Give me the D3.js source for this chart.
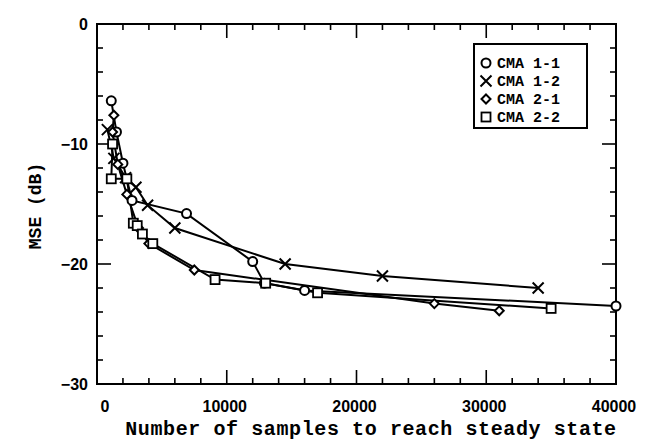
<!DOCTYPE html>
<html>
<head>
<meta charset="utf-8">
<script src="https://cdn.jsdelivr.net/npm/d3@7"></script>
<style>
  body { margin: 0; background: #fff; }
  svg { display: block; }
  .tick-label { font-family: "Liberation Sans", Arial, sans-serif; font-weight: bold; font-size: 16px; }
  .axis-title { font-family: "Liberation Mono", "Courier New", monospace; font-weight: bold; font-size: 20px; }
  .legend-text { font-family: "Liberation Mono", "Courier New", monospace; font-weight: bold; font-size: 15px; }
</style>
</head>
<body>
<script>
// series: number of samples vs MSE (dB)
var cma11X = [1100, 1500, 2000, 2700, 6900, 12000, 12900, 16000, 40000];
var cma11Y = [-6.4, -9.0, -11.6, -14.7, -15.8, -19.8, -21.6, -22.2, -23.5];

var cma12X = [800, 1300, 2200, 3000, 3900, 6000, 14500, 22000, 34000];
var cma12Y = [-8.8, -11.2, -12.8, -13.6, -15.1, -17.0, -20.0, -21.0, -22.0];

var cma21X = [1300, 1200, 1600, 2300, 3200, 4000, 7500, 26000, 31000];
var cma21Y = [-7.6, -9.0, -11.7, -14.2, -17.0, -18.3, -20.5, -23.3, -23.9];

var cma22X = [1200, 1100, 2300, 2800, 3100, 3500, 4300, 9100, 13000, 17000, 35000];
var cma22Y = [-10.0, -12.9, -12.9, -16.6, -16.8, -17.5, -18.3, -21.3, -21.6, -22.4, -23.7];

var xTicks = [0, 10000, 20000, 30000, 40000];
var yTicks = [0, -10, -20, -30];
var legendLabels = ["CMA 1-1", "CMA 1-2", "CMA 2-1", "CMA 2-2"];

var width = 650, height = 441;
// plot frame (note: "top" clashes with window.top, so prefix these)
var pLeft = 97, pRight = 616, pTop = 24, pBottom = 384;

var svg = d3.select("body").append("svg")
  .attr("width", width)
  .attr("height", height);

var x = d3.scaleLinear().domain([0, 40000]).range([pLeft, pRight]);
var y = d3.scaleLinear().domain([-30, 0]).range([pBottom, pTop]);

// frame
svg.append("rect")
  .attr("x", pLeft).attr("y", pTop)
  .attr("width", pRight - pLeft).attr("height", pBottom - pTop)
  .attr("fill", "none").attr("stroke", "black").attr("stroke-width", 2);

// inward ticks on all four sides, x every 2000, y every 2 dB
var xMinor = d3.range(0, 40001, 2000);
var yMinor = d3.range(-30, 0.1, 2);
var ticks = svg.append("g").attr("stroke", "black").attr("stroke-width", 1.6);
xMinor.forEach(function (v) {
  var len = (v % 10000 === 0) ? 14 : 6;
  ticks.append("line").attr("x1", x(v)).attr("x2", x(v)).attr("y1", pBottom).attr("y2", pBottom - len);
  ticks.append("line").attr("x1", x(v)).attr("x2", x(v)).attr("y1", pTop).attr("y2", pTop + len);
});
yMinor.forEach(function (v) {
  var len = (Math.round(v) % 10 === 0) ? 14 : 6;
  ticks.append("line").attr("x1", pLeft).attr("x2", pLeft + len).attr("y1", y(v)).attr("y2", y(v));
  ticks.append("line").attr("x1", pRight).attr("x2", pRight - len).attr("y1", y(v)).attr("y2", y(v));
});

// tick labels
svg.append("g").selectAll("text")
  .data(xTicks).enter().append("text")
  .attr("class", "tick-label")
  .attr("x", function (d) { return d === 0 ? x(d) + 8 : x(d) - 2; })
  .attr("y", pBottom + 28)
  .attr("text-anchor", "middle")
  .text(function (d) { return d; });

svg.append("g").selectAll("text")
  .data(yTicks).enter().append("text")
  .attr("class", "tick-label")
  .attr("x", pLeft - 9)
  .attr("y", function (d) { return y(d) + 6; })
  .attr("text-anchor", "end")
  .text(function (d) { return d === 0 ? "0" : "\u2212" + Math.abs(d); });

// axis titles
svg.append("text")
  .attr("class", "axis-title")
  .attr("x", 371)
  .attr("y", 435)
  .attr("text-anchor", "middle")
  .style("letter-spacing", "0.6px")
  .text("Number of samples to reach steady state");

svg.append("text")
  .attr("class", "axis-title")
  .style("font-size", "18px")
  .attr("transform", "translate(41,206) rotate(-90)")
  .attr("text-anchor", "middle")
  .text("MSE (dB)");

// markers
function drawMarker(g, kind, cx, cy) {
  if (kind === "circle") {
    g.append("circle").attr("cx", cx).attr("cy", cy).attr("r", 4.5)
      .attr("fill", "white").attr("stroke", "black").attr("stroke-width", 2);
  } else if (kind === "cross") {
    var s = 5.5;
    g.append("path")
      .attr("d", "M" + (cx - s) + "," + (cy - s) + "L" + (cx + s) + "," + (cy + s) +
                 "M" + (cx - s) + "," + (cy + s) + "L" + (cx + s) + "," + (cy - s))
      .attr("stroke", "black").attr("stroke-width", 2);
  } else if (kind === "diamond") {
    var d = 4.5;
    g.append("path")
      .attr("d", "M" + cx + "," + (cy - d) + "L" + (cx + d) + "," + cy + "L" + cx + "," + (cy + d) + "L" + (cx - d) + "," + cy + "Z")
      .attr("fill", "white").attr("stroke", "black").attr("stroke-width", 2);
  } else {
    var h = 4.5;
    g.append("rect").attr("x", cx - h).attr("y", cy - h).attr("width", 2 * h).attr("height", 2 * h)
      .attr("fill", "white").attr("stroke", "black").attr("stroke-width", 1.8);
  }
}

var series = [
  { xs: cma11X, ys: cma11Y, kind: "circle" },
  { xs: cma12X, ys: cma12Y, kind: "cross" },
  { xs: cma21X, ys: cma21Y, kind: "diamond" },
  { xs: cma22X, ys: cma22Y, kind: "square" }
];

var line = d3.line()
  .x(function (d) { return x(d[0]); })
  .y(function (d) { return y(d[1]); });

series.forEach(function (s) {
  svg.append("path")
    .datum(d3.zip(s.xs, s.ys))
    .attr("d", line)
    .attr("fill", "none")
    .attr("stroke", "black")
    .attr("stroke-width", 2);
});

series.forEach(function (s) {
  var g = svg.append("g");
  d3.zip(s.xs, s.ys).forEach(function (p) {
    drawMarker(g, s.kind, x(p[0]), y(p[1]));
  });
});

// legend
var lg = svg.append("g");
lg.append("rect")
  .attr("x", 474).attr("y", 44).attr("width", 113).attr("height", 84)
  .attr("fill", "white").attr("stroke", "black").attr("stroke-width", 2);
legendLabels.forEach(function (lab, i) {
  var cy = 63 + i * 18;
  drawMarker(lg, series[i].kind, 486, cy);
  lg.append("text")
    .attr("class", "legend-text")
    .attr("x", 497)
    .attr("y", cy + 5)
    .text(lab);
});
</script>
</body>
</html>
